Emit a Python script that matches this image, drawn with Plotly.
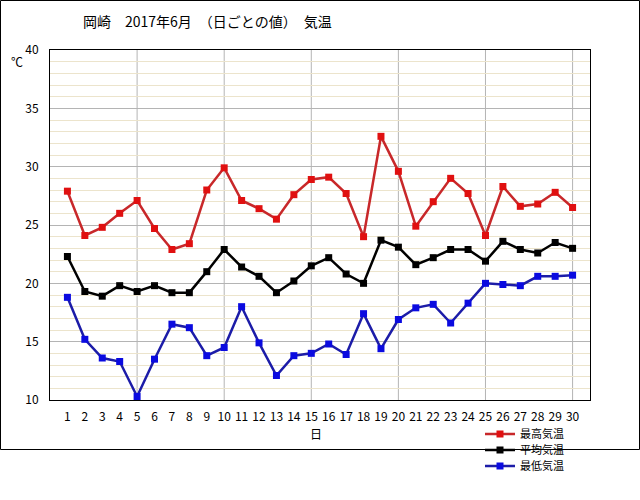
import plotly.graph_objects as go

days = list(range(1, 31))
t_max = [27.9, 24.1, 24.8, 26.0, 27.1, 24.7, 22.9, 23.4, 28.0, 29.9,
         27.1, 26.4, 25.5, 27.6, 28.9, 29.1, 27.7, 24.0, 32.6, 29.6,
         24.9, 27.0, 29.0, 27.7, 24.1, 28.3, 26.6, 26.8, 27.8, 26.5]
t_mean = [22.3, 19.3, 18.9, 19.8, 19.3, 19.8, 19.2, 19.2, 21.0, 22.9,
          21.4, 20.6, 19.2, 20.2, 21.5, 22.2, 20.8, 20.0, 23.7, 23.1,
          21.6, 22.2, 22.9, 22.9, 21.9, 23.6, 22.9, 22.6, 23.5, 23.0]
t_min = [18.8, 15.2, 13.6, 13.3, 10.3, 13.5, 16.5, 16.2, 13.8, 14.5,
         18.0, 14.9, 12.1, 13.8, 14.0, 14.8, 13.9, 17.4, 14.4, 16.9,
         17.9, 18.2, 16.6, 18.3, 20.0, 19.9, 19.8, 20.6, 20.6, 20.7]
series_names = ["最高気温", "平均気温", "最低気温"]
vgrid_days = [5, 10, 15, 20, 25, 30]
y_ticks = [10, 15, 20, 25, 30, 35, 40]
title_text = "岡崎　2017年6月　（日ごとの値）　気温"

FONT = "Noto Sans CJK JP"
W, H = 640, 500
ML, MR, MT, MB = 50, 50, 50, 100
PW, PH = W - ML - MR, H - MT - MB

fig = go.Figure()
styles = [
    (t_max, "#c8282a", "#e01010"),
    (t_mean, "#000000", "#000000"),
    (t_min, "#1c1ca8", "#0a0ae0"),
]
legend_ids = ["legend", "legend2", "legend3"]
legend_rows = [434, 450, 466]
for (vals, lc, mc), name, lid in zip(styles, series_names, legend_ids):
    fig.add_trace(go.Scatter(
        x=days, y=vals, name=name, mode="lines+markers",
        line=dict(color=lc, width=2.5),
        marker=dict(symbol="square", size=7, color=mc),
        legend=lid,
    ))

for d in vgrid_days:
    fig.add_shape(type="line", xref="x", yref="paper", x0=d, x1=d, y0=0, y1=1,
                  line=dict(color="#b4b4b4", width=1), layer="below")

# outer image frame
fig.add_shape(type="rect", xref="paper", yref="paper",
              x0=(-ML + 0.5) / PW, x1=(W - ML - 0.5) / PW,
              y0=(PH + MB - H + 0.5) / PH, y1=(PH + MT - 0.5) / PH,
              line=dict(color="#000000", width=1))

fig.add_annotation(text="℃", xref="paper", yref="paper",
                   x=(17 - ML) / PW, y=(PH + MT - 61) / PH, xanchor="center", yanchor="middle",
                   showarrow=False, font=dict(family=FONT, size=12, color="#000"))
fig.add_annotation(text="日", xref="paper", yref="paper",
                   x=(316 - ML) / PW, y=(PH + MT - 433) / PH, yanchor="middle",
                   showarrow=False, font=dict(family=FONT, size=12, color="#000"))

legend_layout = {}
for lid, row in zip(legend_ids, legend_rows):
    legend_layout[lid] = dict(
        x=(480 - ML) / PW, y=(PH + MT - row) / PH, xanchor="left", yanchor="middle",
        bgcolor="rgba(0,0,0,0)", font=dict(family=FONT, size=11),
        itemwidth=30)

fig.update_layout(
    width=W, height=H,
    margin=dict(l=ML, r=MR, t=MT, b=MB),
    paper_bgcolor="white", plot_bgcolor="white",
    font=dict(family=FONT, size=12, color="#000"),
    title=dict(text=title_text, x=(83) / W, xanchor="left", xref="container",
               y=1 - 22 / H, yanchor="middle", yref="container",
               font=dict(family=FONT, size=14, color="#000")),
    showlegend=True,
    **legend_layout,
    xaxis=dict(range=[0, 31], tickvals=days, ticktext=[str(d) for d in days],
               showgrid=False, zeroline=False, showline=True, linecolor="#000",
               linewidth=1, mirror=True, ticks="", tickfont=dict(size=12),
               ticklabelstandoff=6),
    yaxis=dict(range=[10, 40], tickvals=y_ticks, showgrid=True, gridcolor="#b4b4b4",
               gridwidth=1, zeroline=False, showline=True, linecolor="#000",
               linewidth=1, mirror=True, ticks="", tickfont=dict(size=12),
               ticklabelstandoff=8,
               minor=dict(dtick=1, showgrid=True, gridcolor="#ece4cc", gridwidth=1)),
)

fig.write_html("out.html")
